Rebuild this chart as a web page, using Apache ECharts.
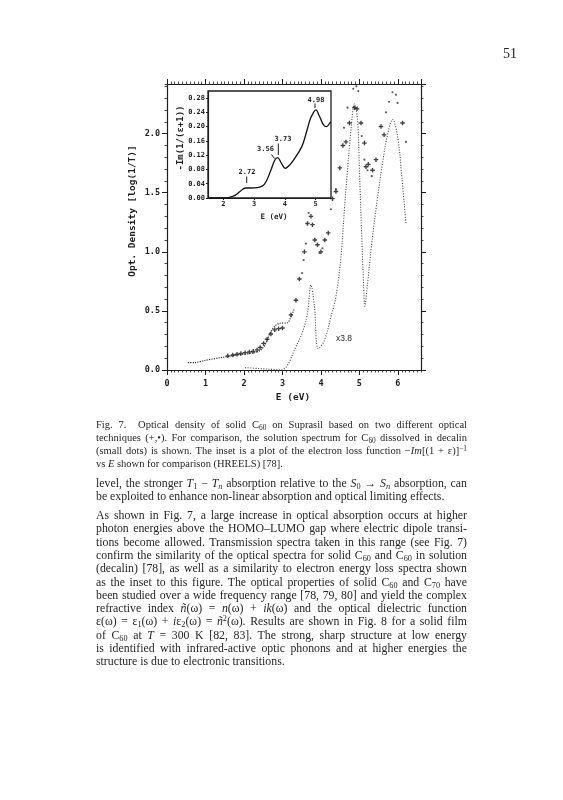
<!DOCTYPE html>
<html><head><meta charset="utf-8">
<script src="https://cdn.jsdelivr.net/npm/echarts@6/dist/echarts.min.js"></script>
<style>
html,body{margin:0;padding:0;background:#fff;}
#chart{position:absolute;left:0;top:0;width:563px;height:800px;}
.ln{position:absolute;left:96px;width:371px;height:13px;line-height:13px;font-family:'Liberation Serif','Times New Roman',serif;color:#262626;white-space:nowrap;text-align:justify;text-align-last:justify;}
.cap{font-size:10.5px;}
.bod{font-size:11.8px;}
.left{text-align:left;text-align-last:left;}
sub,sup{font-size:0.7em;line-height:0;}
sub{vertical-align:-0.25em;}
sup{vertical-align:0.45em;}
#pn{position:absolute;left:503px;top:46px;font-family:'Liberation Serif',serif;font-size:14px;color:#222;}
</style></head><body>
<div id="chart"></div>
<div id="pn">51</div>
<div class="ln cap" style="top:418px">Fig. 7.&nbsp; Optical density of solid C<sub>60</sub> on Suprasil based on two different optical</div>
<div class="ln cap" style="top:431px">techniques (+,•). For comparison, the solution spectrum for C<sub>60</sub> dissolved in decalin</div>
<div class="ln cap" style="top:444px">(small dots) is shown. The inset is a plot of the electron loss function −<i>Im</i>[(1 + ε)]<sup>−1</sup></div>
<div class="ln cap left" style="top:457px">vs <i>E</i> shown for comparison (HREELS) [78].</div>
<div class="ln bod" style="top:477px">level, the stronger <i>T</i><sub>1</sub> − <i>T<sub>n</sub></i> absorption relative to the <i>S</i><sub>0</sub> → <i>S<sub>n</sub></i> absorption, can</div>
<div class="ln bod left" style="top:490px">be exploited to enhance non-linear absorption and optical limiting effects.</div>
<div class="ln bod" style="top:509px">As shown in Fig. 7, a large increase in optical absorption occurs at higher</div>
<div class="ln bod" style="top:522px">photon energies above the HOMO–LUMO gap where electric dipole transi-</div>
<div class="ln bod" style="top:535.5px">tions become allowed. Transmission spectra taken in this range (see Fig. 7)</div>
<div class="ln bod" style="top:549px">confirm the similarity of the optical spectra for solid C<sub>60</sub> and C<sub>60</sub> in solution</div>
<div class="ln bod" style="top:562px">(decalin) [78], as well as a similarity to electron energy loss spectra shown</div>
<div class="ln bod" style="top:575.5px">as the inset to this figure. The optical properties of solid C<sub>60</sub> and C<sub>70</sub> have</div>
<div class="ln bod" style="top:588.5px">been studied over a wide frequency range [78, 79, 80] and yield the complex</div>
<div class="ln bod" style="top:602px">refractive index <i>ñ</i>(ω) = <i>n</i>(ω) + <i>ik</i>(ω) and the optical dielectric function</div>
<div class="ln bod" style="top:615px">ε(ω) = ε<sub>1</sub>(ω) + <i>i</i>ε<sub>2</sub>(ω) = <i>ñ</i><sup>2</sup>(ω). Results are shown in Fig. 8 for a solid film</div>
<div class="ln bod" style="top:628.5px">of C<sub>60</sub> at <i>T</i> = 300 K [82, 83]. The strong, sharp structure at low energy</div>
<div class="ln bod" style="top:641.5px">is identified with infrared-active optic phonons and at higher energies the</div>
<div class="ln bod left" style="top:655px">structure is due to electronic transitions.</div>
<script>
// ---- data ----
// solution spectrum (x3.8), small dots
const solE  = [2.03,2.40,2.80,2.96,3.13,3.31,3.52,3.65,3.74,3.83,3.93,4.09,4.26,4.39,4.52,4.61,4.69,4.78,4.87,4.95,5.00,5.06,5.11,5.14,5.21,5.32,5.45,5.60,5.73,5.86,5.99,6.10,6.21];
const solOD = [0.02,0.012,0.004,0.0,0.04,0.17,0.32,0.48,0.72,0.54,0.18,0.25,0.45,0.62,0.96,1.36,1.69,2.03,2.25,2.12,1.69,1.13,0.71,0.54,0.73,1.07,1.41,1.75,1.99,2.12,1.98,1.64,1.23];
// solid film, dense dots at low energy
const lowE  = [0.54,0.71,0.97,1.40,1.84,2.27,2.44,2.57,2.66,2.79,2.92,3.13,3.22,3.31];
const lowOD = [0.062,0.062,0.08,0.105,0.127,0.147,0.17,0.226,0.30,0.367,0.395,0.40,0.45,0.52];
// solid film, "+" technique
const plusE  = [1.58,1.71,1.82,1.92,2.03,2.14,2.24,2.34,2.42,2.51,2.60,2.70,2.80,2.90,3.00,3.22,3.35,3.44,3.57,3.65,3.74,3.78,3.84,3.91,4.00,4.10,4.19,4.30,4.39,4.49,4.57,4.65,4.74,4.87,4.94,5.04,5.13,5.17,5.23,5.34,5.43,5.56,5.64,6.12];
const plusOD = [0.12,0.127,0.133,0.14,0.147,0.152,0.158,0.17,0.19,0.225,0.26,0.305,0.34,0.35,0.355,0.466,0.59,0.77,1.00,1.24,1.30,1.23,1.10,1.06,1.00,1.10,1.16,1.45,1.51,1.71,1.90,1.93,2.09,2.22,2.21,2.09,1.92,1.72,1.74,1.69,1.78,2.06,1.99,2.09];
// solid film, "•" technique
const dotE  = [3.51,3.55,3.61,3.68,3.96,4.04,4.26,4.39,4.60,4.69,4.84,4.92,4.97,5.06,5.13,5.21,5.32,5.69,5.77,5.86,5.95,5.99,6.21];
const dotOD = [0.82,0.93,1.07,1.33,0.99,1.03,1.36,1.53,2.05,2.22,2.38,2.40,2.36,1.98,1.78,1.69,1.64,2.18,2.27,2.35,2.33,2.26,1.93];
// inset: electron loss function
const insE = [1.55,2.00,2.20,2.39,2.55,2.72,2.90,3.10,3.33,3.54,3.67,3.76,3.90,4.01,4.15,4.28,4.55,4.71,4.82,4.92,5.01,5.12,5.25,5.35,5.46,5.50];
const insY = [0.0,0.0,0.002,0.008,0.019,0.028,0.028,0.029,0.038,0.077,0.106,0.113,0.096,0.083,0.092,0.106,0.144,0.187,0.22,0.238,0.247,0.23,0.206,0.2,0.21,0.213];
// inset peak annotations
const peakLabels = ['4.98','3.73','3.56','2.72'];
const scaleLabel = 'x3.8';

const zip = (a,b)=>a.map((v,i)=>[v,b[i]]);
const INK = '#1e1e1e';
const MONO = 'DejaVu Sans Mono';

function ax(o){
  return Object.assign({
    type:'value', splitLine:{show:false},
    axisLine:{show:true,onZero:false,lineStyle:{color:INK,width:1.2}},
    axisTick:{show:true,inside:false,length:5,lineStyle:{color:INK,width:1}},
    axisLabel:{show:false}
  }, o);
}
function minorAx(o){
  return Object.assign(ax(o),{axisLine:{show:false,onZero:false},axisTick:{show:true,inside:false,length:2.5,lineStyle:{color:INK,width:0.8}}});
}
const lab = (fs,margin,fmt)=>({show:true,color:INK,fontFamily:MONO,fontWeight:'bold',fontSize:fs,margin:margin,formatter:fmt,showMinLabel:true,showMaxLabel:false});

const chart = echarts.init(document.getElementById('chart'),null,{renderer:'canvas'});
chart.setOption({
  animation:false,
  backgroundColor:'transparent',
  grid:[
    {left:167,top:84,width:254,height:286,show:false},
    {left:208,top:91,width:123,height:107,show:true,backgroundColor:'#fff',borderColor:INK,borderWidth:1.3,z:3}
  ],
  xAxis:[
    ax({gridIndex:0,position:'bottom',min:0,max:6.6,interval:1,axisLabel:lab(8.5,9,v=>String(Math.round(v)))}),
    minorAx({gridIndex:0,position:'bottom',min:0,max:6.6,interval:0.1}),
    ax({gridIndex:0,position:'top',min:0,max:6.6,interval:1}),
    minorAx({gridIndex:0,position:'top',min:0,max:6.6,interval:0.1}),
    ax({gridIndex:1,position:'bottom',min:1.5,max:5.5,minInterval:1,maxInterval:1,z:4,
        axisTick:{show:true,inside:false,length:2,lineStyle:{color:INK}},
        axisLabel:Object.assign(lab(7,3,v=>String(Math.round(v))),{showMinLabel:false})})
  ],
  yAxis:[
    ax({gridIndex:0,position:'left',min:0,max:2.42,interval:0.5,axisLabel:lab(8.5,7,v=>v.toFixed(1))}),
    minorAx({gridIndex:0,position:'left',min:0,max:2.42,interval:0.1}),
    ax({gridIndex:0,position:'right',min:0,max:2.42,interval:0.5}),
    minorAx({gridIndex:0,position:'right',min:0,max:2.42,interval:0.1}),
    ax({gridIndex:1,position:'left',min:0,max:0.30,interval:0.04,z:4,
        axisTick:{show:true,inside:false,length:2,lineStyle:{color:INK}},
        axisLabel:lab(7,3,v=>v.toFixed(2))})
  ],
  series:[
    {type:'line',xAxisIndex:0,yAxisIndex:0,data:zip(solE,solOD),smooth:0.35,showSymbol:false,
     lineStyle:{color:'#444',width:1.1,type:[1,1.6]},z:2},
    {type:'line',xAxisIndex:0,yAxisIndex:0,data:zip(lowE,lowOD),smooth:0.3,showSymbol:false,
     lineStyle:{color:'#333',width:1.2,type:[1.2,1.2]},z:2},
    {type:'scatter',xAxisIndex:0,yAxisIndex:0,data:zip(plusE,plusOD),
     symbol:'path://M0,3.5H10V6.5H0Z M3.5,0H6.5V10H3.5Z',symbolSize:4.5,itemStyle:{color:'#111'},z:2},
    {type:'scatter',xAxisIndex:0,yAxisIndex:0,data:zip(dotE,dotOD),
     symbol:'circle',symbolSize:2.2,itemStyle:{color:'#333'},z:2},
    {type:'line',xAxisIndex:4,yAxisIndex:4,data:zip(insE,insY),smooth:0.4,showSymbol:false,
     lineStyle:{color:'#111',width:1.3},z:5}
  ],
  graphic:[
    {type:'text',x:133,y:211,rotation:Math.PI/2,style:{text:'Opt. Density [log(1/T)]',font:'bold 9.5px '+MONO,fill:INK,align:'center',verticalAlign:'middle'}},
    {type:'text',x:293,y:398,style:{text:'E (eV)',font:'bold 9.5px '+MONO,fill:INK,align:'center',verticalAlign:'middle'}},
    {type:'text',x:181,y:138,rotation:Math.PI/2,style:{text:'-Im(1/(ε+1))',font:'bold 9px '+MONO,fill:INK,align:'center',verticalAlign:'middle'}},
    {type:'text',x:274,y:217,style:{text:'E (eV)',font:'bold 7.5px '+MONO,fill:INK,align:'center',verticalAlign:'middle'},z:10},
    {type:'text',x:316,y:100,style:{text:peakLabels[0],font:'bold 7px '+MONO,fill:INK,align:'center',verticalAlign:'middle'},z:10},
    {type:'line',shape:{x1:315,y1:103.5,x2:315,y2:108},style:{stroke:INK,lineWidth:1},z:10},
    {type:'text',x:283,y:139.5,style:{text:peakLabels[1],font:'bold 7px '+MONO,fill:INK,align:'center',verticalAlign:'middle'},z:10},
    {type:'line',shape:{x1:278.3,y1:143.5,x2:278.3,y2:155},style:{stroke:INK,lineWidth:1},z:10},
    {type:'text',x:265.5,y:149.5,style:{text:peakLabels[2],font:'bold 7px '+MONO,fill:INK,align:'center',verticalAlign:'middle'},z:10},
    {type:'line',shape:{x1:271.5,y1:154.5,x2:274.5,y2:158.5},style:{stroke:INK,lineWidth:1},z:10},
    {type:'text',x:247,y:172.5,style:{text:peakLabels[3],font:'bold 7px '+MONO,fill:INK,align:'center',verticalAlign:'middle'},z:10},
    {type:'line',shape:{x1:246.7,y1:176.5,x2:246.7,y2:183},style:{stroke:INK,lineWidth:1},z:10},
    {type:'text',x:344,y:338.5,style:{text:scaleLabel,font:'8.5px Liberation Sans',fill:INK,align:'center',verticalAlign:'middle'}}
  ]
});
</script>
</body></html>
